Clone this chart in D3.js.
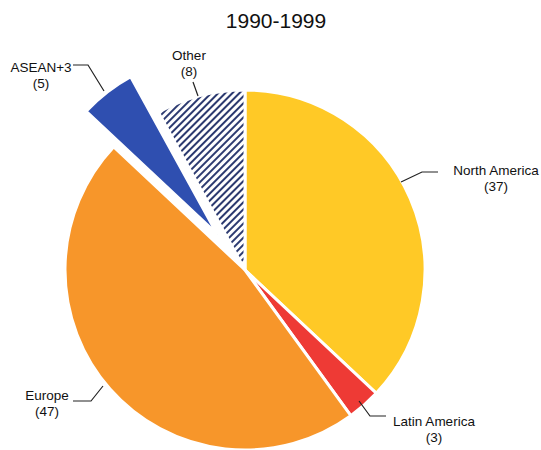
<!DOCTYPE html>
<html>
<head>
<meta charset="utf-8">
<script src="https://cdn.jsdelivr.net/npm/d3@7"></script>
<style>
  body { margin: 0; background: #fff; }
  text { font-family: "Liberation Sans", Arial, sans-serif; fill: #111; }
</style>
</head>
<body>
<div id="chart"></div>
<script>
// data
var regions = ["North America", "Latin America", "Europe", "ASEAN+3", "Other"];
var shares = [37, 3, 47, 5, 8];
var colors = ["#ffc926", "#ee3a35", "#f7962a", "#2f4fb0", "url(#stripes)"];
var exploded = ["ASEAN+3"];

var width = 541, height = 450;
var cx = 245, cy = 270, radius = 180;

var svg = d3.select("#chart")
  .append("svg")
    .attr("width", width)
    .attr("height", height);

// hatch pattern for "Other"
var pat = svg.append("defs").append("pattern")
    .attr("id", "stripes")
    .attr("patternUnits", "userSpaceOnUse")
    .attr("width", 5)
    .attr("height", 5)
    .attr("patternTransform", "rotate(45)");
pat.append("rect").attr("width", 5).attr("height", 5).attr("fill", "#fff");
pat.append("rect").attr("width", 2).attr("height", 5).attr("fill", "#2c3a70");

svg.append("text")
    .attr("x", 276)
    .attr("y", 28)
    .attr("text-anchor", "middle")
    .style("font-size", "21px")
    .text("1990-1999");

var data = regions.map(function(r, i) { return {name: r, value: shares[i], color: colors[i]}; });

var pie = d3.pie().sort(null).value(function(d) { return d.value; });
var arc = d3.arc().innerRadius(0).outerRadius(radius);

var g = svg.append("g").attr("transform", "translate(" + cx + "," + cy + ")");

g.selectAll("path")
  .data(pie(data))
  .enter().append("path")
    .attr("d", arc)
    .attr("fill", function(d) { return d.data.color; })
    .attr("stroke", "#fff")
    .attr("stroke-width", 3)
    .attr("transform", function(d) {
      if (exploded.indexOf(d.data.name) < 0) return null;
      var a = (d.startAngle + d.endAngle) / 2;
      return "translate(" + (Math.sin(a) * 45) + "," + (-Math.cos(a) * 45) + ")";
    });

// labels with leader lines (positions)
var labels = [
  {name: "North America", tx: 496, ty: 175, pts: [[401, 182], [422, 172], [438, 172]]},
  {name: "Latin America", tx: 434, ty: 426, pts: [[359, 401], [370, 416], [386, 416]]},
  {name: "Europe", tx: 47, ty: 400, pts: [[103, 386], [91, 401], [73, 401]]},
  {name: "ASEAN+3", tx: 41, ty: 72, pts: [[104, 91], [88, 65], [73, 65]]},
  {name: "Other", tx: 189, ty: 60, pts: [[198, 96], [193, 82]]}
];

labels.forEach(function(l) {
  var i = regions.indexOf(l.name);
  svg.append("path")
    .attr("d", d3.line()(l.pts))
    .attr("fill", "none")
    .attr("stroke", "#222")
    .attr("stroke-width", 1.2);
  var t = svg.append("text")
    .attr("x", l.tx)
    .attr("y", l.ty)
    .attr("text-anchor", "middle")
    .style("font-size", "13.5px");
  t.append("tspan").attr("x", l.tx).text(l.name);
  t.append("tspan").attr("x", l.tx).attr("dy", 16).text("(" + shares[i] + ")");
});
</script>
</body>
</html>
